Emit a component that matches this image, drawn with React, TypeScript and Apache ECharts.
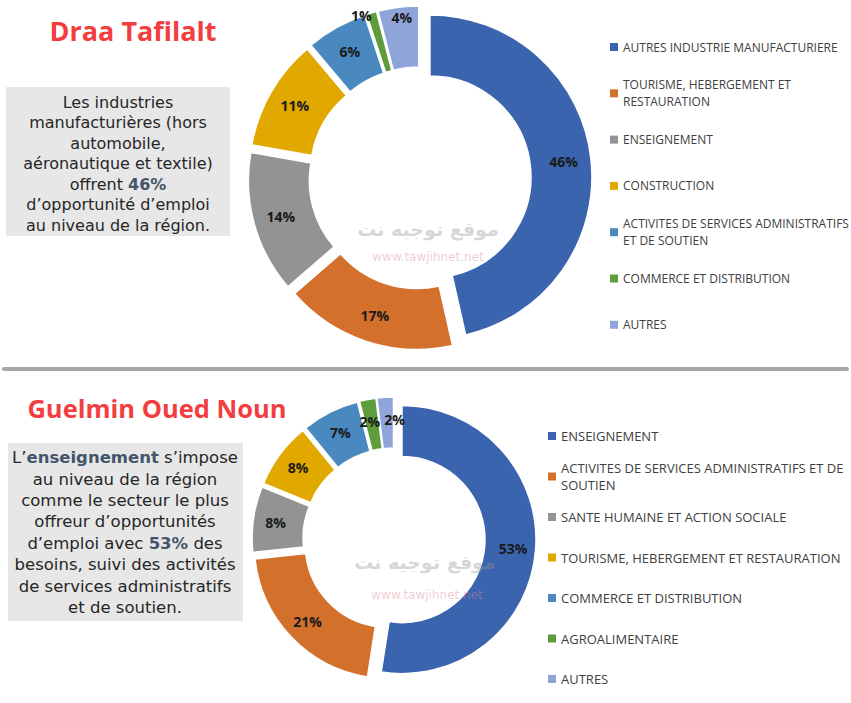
import React, { useEffect, useRef } from "react";
import * as echarts from "echarts";

const PALETTE = ["#3A64AD", "#D3702C", "#939393", "#E1A800", "#4A88C0", "#5E9C3C", "#8FA4D8"];

const topTitle = "Draa Tafilalt";
const topCategories = [
  "AUTRES INDUSTRIE MANUFACTURIERE",
  "TOURISME, HEBERGEMENT ET RESTAURATION",
  "ENSEIGNEMENT",
  "CONSTRUCTION",
  "ACTIVITES DE SERVICES ADMINISTRATIFS ET DE SOUTIEN",
  "COMMERCE ET DISTRIBUTION",
  "AUTRES",
];
const topLegendLabels = [
  "AUTRES INDUSTRIE MANUFACTURIERE",
  "TOURISME, HEBERGEMENT ET\nRESTAURATION",
  "ENSEIGNEMENT",
  "CONSTRUCTION",
  "ACTIVITES DE SERVICES ADMINISTRATIFS\nET DE SOUTIEN",
  "COMMERCE ET DISTRIBUTION",
  "AUTRES",
];
const topValues = [46, 17, 14, 11, 6, 1, 4];
const topNote = [
  "Les industries",
  "manufacturières (hors",
  "automobile,",
  "aéronautique et textile)",
  `offrent {b|${topValues[0]}%}`,
  "d’opportunité d’emploi",
  "au niveau de la région.",
];

const bottomTitle = "Guelmin Oued Noun";
const bottomCategories = [
  "ENSEIGNEMENT",
  "ACTIVITES DE SERVICES ADMINISTRATIFS ET DE SOUTIEN",
  "SANTE HUMAINE ET ACTION SOCIALE",
  "TOURISME, HEBERGEMENT ET RESTAURATION",
  "COMMERCE ET DISTRIBUTION",
  "AGROALIMENTAIRE",
  "AUTRES",
];
const bottomLegendLabels = [
  "ENSEIGNEMENT",
  "ACTIVITES DE SERVICES ADMINISTRATIFS ET DE\nSOUTIEN",
  "SANTE HUMAINE ET ACTION SOCIALE",
  "TOURISME, HEBERGEMENT ET RESTAURATION",
  "COMMERCE ET DISTRIBUTION",
  "AGROALIMENTAIRE",
  "AUTRES",
];
const bottomValues = [53, 21, 8, 8, 7, 2, 2];
const bottomNote = [
  "L’{b|enseignement} s’impose",
  "au niveau de la région",
  "comme le secteur le plus",
  "offreur d’opportunités",
  `d’emploi avec {b|${bottomValues[0]}%} des`,
  "besoins, suivi des activités",
  "de services administratifs",
  "et de soutien.",
];

const WM_AR = "موقع توجيه نت";
const WM_URL = "www.tawjihnet.net";

type Cfg = {
  categories: string[];
  labels: string[];
  values: number[];
  title: string;
  titleX: number;
  titleY: number;
  titleSize: number;
  note: string[];
  noteSize: number;
  box: [number, number, number, number];
  noteX: number;
  noteY: number;
  noteLH: number;
  center: [number, number];
  radius: [number, number];
  offset: number;
  legendLeft: number;
  legendTop: number;
  legendStep: number;
  legendSize: number;
  wm: [number, number, number, number];
  labelShift?: Record<number, number[]>;
  separator?: boolean;
};

function makeOption(c: Cfg) {
  const ITEM_H = 51;
  const graphic: any[] = [];
  if (c.separator) {
    graphic.push({
      type: "line",
      shape: { x1: 4, y1: 3, x2: 847, y2: 3 },
      style: { stroke: "#A6A6A6", lineWidth: 4, lineCap: "round" },
    });
  }
  graphic.push(
    {
      type: "text",
      x: c.titleX,
      y: c.titleY,
      style: {
        text: c.title,
        align: "center",
        verticalAlign: "middle",
        fontFamily: "Open Sans",
        fontWeight: "bold",
        fontSize: c.titleSize,
        fill: "#F43D3F",
      },
    },
    {
      type: "rect",
      shape: { x: c.box[0], y: c.box[1], width: c.box[2], height: c.box[3] },
      style: { fill: "#E7E7E7" },
    },
    {
      type: "text",
      x: c.noteX,
      y: c.noteY,
      style: {
        text: c.note.join("\n"),
        align: "center",
        verticalAlign: "top",
        fontFamily: "DejaVu Sans",
        fontSize: c.noteSize,
        lineHeight: c.noteLH,
        fill: "#262626",
        rich: {
          b: {
            fontFamily: "DejaVu Sans",
            fontSize: c.noteSize,
            fontWeight: "bold",
            lineHeight: c.noteLH,
            fill: "#44546A",
          },
        },
      },
    },
    {
      type: "text",
      x: c.wm[0],
      y: c.wm[1],
      z: 10,
      style: {
        text: WM_AR,
        align: "center",
        verticalAlign: "middle",
        fontFamily: "DejaVu Sans",
        fontWeight: "bold",
        fontSize: 19,
        fill: "rgba(150,150,150,0.4)",
      },
    },
    {
      type: "text",
      x: c.wm[2],
      y: c.wm[3],
      z: 10,
      style: {
        text: WM_URL,
        align: "center",
        verticalAlign: "middle",
        fontFamily: "DejaVu Sans",
        fontSize: 12,
        fill: "rgba(220,140,150,0.45)",
      },
    }
  );

  const labelMap: Record<string, string> = {};
  c.categories.forEach((n, i) => (labelMap[n] = c.labels[i]));

  const labelFont = {
    fontFamily: "Open Sans",
    fontWeight: "bold",
    fontSize: 14,
    color: "#1A1A1A",
    lineHeight: 19,
  };
  const rich: Record<string, any> = { v: { ...labelFont } };
  const shift = c.labelShift || {};
  Object.keys(shift).forEach((k) => {
    const [dx, dy] = shift[+k];
    rich["h" + k] = { width: Math.abs(dx) * 2, lineHeight: 19 };
    rich["g" + k] = { width: 1, height: Math.abs(dy) * 2, lineHeight: Math.abs(dy) * 2 };
  });

  return {
    animation: false,
    color: PALETTE,
    graphic,
    legend: {
      orient: "vertical",
      left: c.legendLeft,
      top: c.legendTop - ITEM_H / 2,
      height: 600,
      padding: 0,
      itemGap: c.legendStep - ITEM_H,
      itemWidth: 8,
      itemHeight: 8,
      icon: "rect",
      selectedMode: false,
      itemStyle: { borderWidth: 0 },
      formatter: (name: string) => labelMap[name] || name,
      textStyle: { fontFamily: "Open Sans", fontSize: c.legendSize, color: "#404040", lineHeight: 17 },
      data: c.categories.map((n, i) => ({
        name: n,
        textStyle: { padding: c.labels[i].includes("\n") ? [17, 0, 0, 0] : [17, 0, 17, 0] },
      })),
    },
    series: [
      {
        type: "pie",
        center: c.center,
        radius: c.radius,
        startAngle: 90,
        clockwise: true,
        selectedMode: "multiple",
        selectedOffset: c.offset,
        silent: true,
        avoidLabelOverlap: false,
        labelLayout: { hideOverlap: false },
        emphasis: { disabled: true, scale: false },
        itemStyle: { borderColor: "#ffffff", borderWidth: 1.5 },
        label: {
          show: true,
          position: "inside",
          ...labelFont,
          rich,
          formatter: (p: any) => {
            const s = shift[p.dataIndex];
            const v = `{v|${p.value}%}`;
            if (!s) return v;
            const first = s[0] ? (s[0] < 0 ? `${v}{h${p.dataIndex}| }` : `{h${p.dataIndex}| }${v}`) : v;
            return s[1] ? `${first}\n{g${p.dataIndex}| }` : first;
          },
        },
        labelLine: { show: false },
        data: c.categories.map((n, i) => ({ name: n, value: c.values[i], selected: true })),
      },
    ],
  };
}

function Chart({ cfg, top, height }: { cfg: Cfg; top: number; height: number }) {
  const ref = useRef<HTMLDivElement>(null);
  useEffect(() => {
    if (!ref.current) return;
    const chart = echarts.init(ref.current, undefined, { renderer: "svg" });
    chart.setOption(makeOption(cfg) as any);
    return () => chart.dispose();
  }, []);
  return <div ref={ref} style={{ position: "absolute", left: 0, top, width: 851, height }} />;
}

const topCfg: Cfg = {
  categories: topCategories,
  labels: topLegendLabels,
  values: topValues,
  title: topTitle,
  titleX: 133,
  titleY: 30,
  titleSize: 27,
  note: topNote,
  noteSize: 16,
  box: [6, 87, 224, 149],
  noteX: 118,
  noteY: 92,
  noteLH: 20.5,
  center: [420, 178],
  radius: [101, 162],
  offset: 10,
  legendLeft: 610,
  legendTop: 47,
  legendStep: 46.3,
  legendSize: 12,
  wm: [428, 229, 428, 257],
  labelShift: { 5: [-18, -24], 6: [0, -17] },
};

const bottomCfg: Cfg = {
  categories: bottomCategories,
  labels: bottomLegendLabels,
  values: bottomValues,
  title: bottomTitle,
  titleX: 157,
  titleY: 42,
  titleSize: 25.5,
  note: bottomNote,
  noteSize: 16.5,
  box: [8, 77, 235, 178],
  noteX: 125,
  noteY: 81,
  noteLH: 21.4,
  center: [394, 173],
  radius: [83, 134],
  offset: 8,
  legendLeft: 548,
  legendTop: 70,
  legendStep: 40.5,
  legendSize: 13,
  wm: [425, 196, 427, 229],
  labelShift: { 5: [-2, 0], 6: [8, 0] },
  separator: true,
};

export default function App() {
  return (
    <div style={{ position: "absolute", left: 0, top: 0, width: 851, height: 703, background: "#fff" }}>
      <Chart cfg={topCfg} top={0} height={366} />
      <Chart cfg={bottomCfg} top={366} height={337} />
    </div>
  );
}
